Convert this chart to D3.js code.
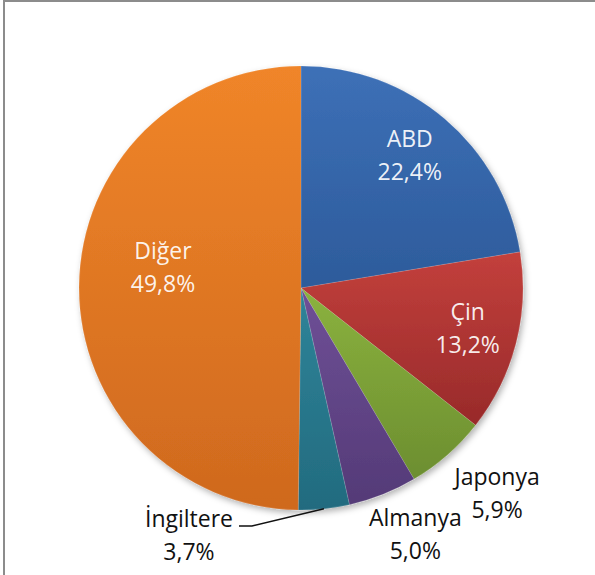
<!DOCTYPE html>
<html>
<head>
<meta charset="utf-8">
<script src="https://cdn.jsdelivr.net/npm/d3@7"></script>
<style>
  body { margin: 0; background: #fff; }
  svg text { font-family: "Open Sans", "Noto Sans", sans-serif; }
</style>
</head>
<body>
<div id="chart"></div>
<script>
// data
const countries = ["ABD", "Çin", "Japonya", "Almanya", "İngiltere", "Diğer"];
const shares = [22.4, 13.2, 5.9, 5.0, 3.7, 49.8];
const colorsTop = ["#3d70b7", "#c3403c", "#8bb23e", "#6f5097", "#2f8499", "#f08529"];
const colorsBottom = ["#2d5b9b", "#982a2a", "#6c8e30", "#543a77", "#226b7f", "#cf691e"];

const width = 595, height = 575;
const cx = 301, cy = 288, radius = 222;

const svg = d3.select("#chart")
  .append("svg")
    .attr("width", width)
    .attr("height", height);

// frame (only top and left edge visible)
svg.append("rect")
  .attr("x", 4).attr("y", 1)
  .attr("width", 700).attr("height", 700)
  .attr("fill", "none")
  .attr("stroke", "#8c8c8c")
  .attr("stroke-width", 2);

const defs = svg.append("defs");

const shadow = defs.append("filter")
  .attr("id", "shadow")
  .attr("x", "-10%").attr("y", "-10%")
  .attr("width", "120%").attr("height", "120%");
shadow.append("feDropShadow")
  .attr("dx", 2).attr("dy", 3)
  .attr("stdDeviation", 3)
  .attr("flood-color", "#000")
  .attr("flood-opacity", 0.3);

countries.forEach((c, i) => {
  const g = defs.append("linearGradient")
    .attr("id", "grad" + i)
    .attr("x1", 0).attr("y1", 0).attr("x2", 0).attr("y2", 1);
  g.append("stop").attr("offset", "0%").attr("stop-color", colorsTop[i]);
  g.append("stop").attr("offset", "100%").attr("stop-color", colorsBottom[i]);
});

const data = countries.map((c, i) => ({name: c, value: shares[i], i: i}));

const pie = d3.pie()
  .value(d => d.value)
  .sort(null);

const arcs = pie(data);

const arc = d3.arc()
  .innerRadius(0)
  .outerRadius(radius);

const g = svg.append("g")
  .attr("transform", `translate(${cx},${cy})`);

g.append("g")
  .attr("filter", "url(#shadow)")
  .selectAll("path")
  .data(arcs)
  .join("path")
    .attr("d", arc)
    .attr("fill", d => `url(#grad${d.data.i})`)
    .attr("stroke", "rgba(255,255,255,0.25)")
    .attr("stroke-width", 0.5);

const fmt = v => d3.format(".1f")(v).replace(".", ",") + "%";

// label placement: radius from center along the slice middle, plus small nudges
const labelRadius = [168, 169, 290, 278, 0, 139];
const nudge = [[0, 0], [3, 3], [5, -8], [12, -7], [0, 0], [1, -15]];

arcs.forEach(d => {
  const i = d.data.i;
  const mid = (d.startAngle + d.endAngle) / 2;
  const callout = d.data.name === "İngiltere";
  let x, y;
  if (callout) {
    x = -112; y = 252;
  } else {
    x = Math.sin(mid) * labelRadius[i] + nudge[i][0];
    y = -Math.cos(mid) * labelRadius[i] + nudge[i][1];
  }
  const inside = labelRadius[i] < radius && !callout;
  const t = g.append("text")
    .attr("text-anchor", "middle")
    .attr("font-size", 23)
    .attr("fill", inside ? "rgba(255,255,255,0.92)" : "#111");
  t.append("tspan").attr("x", x).attr("y", y - 13).text(d.data.name);
  t.append("tspan").attr("x", x).attr("y", y + 20).text(fmt(d.data.value));

  if (callout) {
    const p = [Math.sin(mid) * radius, -Math.cos(mid) * radius];
    g.append("path")
      .attr("d", d3.line()([[x + 50, y - 14], [x + 63, y - 14], p]))
      .attr("fill", "none")
      .attr("stroke", "#111")
      .attr("stroke-width", 1.5);
  }
});
</script>
</body>
</html>
